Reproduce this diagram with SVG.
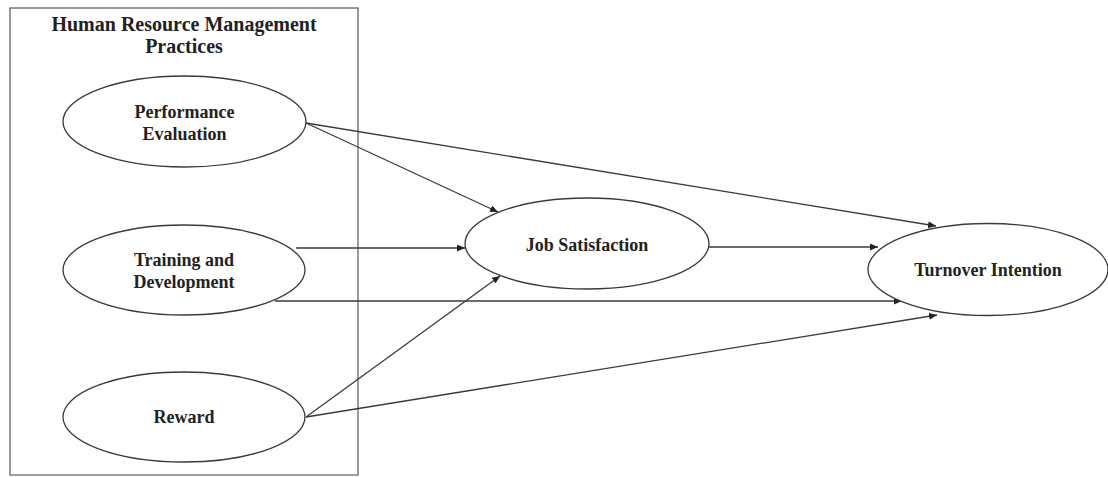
<svg xmlns="http://www.w3.org/2000/svg" width="1108" height="477" viewBox="0 0 1108 477">
<style>
.node ellipse{fill:#fff;stroke:#3a3a3a;stroke-width:1.3}
.lbl{font-family:"Liberation Serif","Times New Roman",serif;font-weight:bold;font-size:18px;fill:#222;text-anchor:middle}
.title{font-size:20px}
.conn line{stroke:#3a3a3a;stroke-width:1.3;marker-end:url(#ah)}
</style>
<defs>
<marker id="ah" markerUnits="userSpaceOnUse" markerWidth="9" markerHeight="8" refX="8" refY="3.5" orient="auto">
<path d="M0,0 L8,3.5 L0,7 z" fill="#222"/>
</marker>
</defs>
<rect width="1108" height="477" fill="#fff"/>
<g id="hrm-group">
<rect x="10" y="8" width="348" height="467" fill="none" stroke="#666" stroke-width="1.3"/>
<text class="lbl title" x="184" y="31">Human Resource Management</text>
<text class="lbl title" x="184" y="53">Practices</text>
</g>
<g id="conn" class="conn">
<line x1="306" y1="123" x2="498" y2="212"/>
<line x1="306" y1="123" x2="936" y2="226"/>
<line x1="296" y1="248" x2="465" y2="248"/>
<line x1="709" y1="247" x2="878" y2="247"/>
<line x1="275" y1="301" x2="902" y2="301"/>
<line x1="306" y1="417" x2="500" y2="276"/>
<line x1="306" y1="417" x2="937" y2="315"/>
</g>
<g id="performance-evaluation" class="node">
<ellipse cx="184.5" cy="121.5" rx="121.5" ry="45.5"/>
<text class="lbl" x="184.5" y="117.5">Performance</text>
<text class="lbl" x="184.5" y="139.5">Evaluation</text>
</g>
<g id="training-development" class="node">
<ellipse cx="184" cy="270" rx="121" ry="45"/>
<text class="lbl" x="184" y="265.5">Training and</text>
<text class="lbl" x="184" y="287.5">Development</text>
</g>
<g id="reward" class="node">
<ellipse cx="184" cy="417" rx="121" ry="45"/>
<text class="lbl" x="184" y="422.5">Reward</text>
</g>
<g id="job-satisfaction" class="node">
<ellipse cx="587" cy="243.5" rx="122" ry="45.5"/>
<text class="lbl" x="587" y="251">Job Satisfaction</text>
</g>
<g id="turnover-intention" class="node">
<ellipse cx="988" cy="269.5" rx="120" ry="46"/>
<text class="lbl" x="988" y="276">Turnover Intention</text>
</g>
</svg>
